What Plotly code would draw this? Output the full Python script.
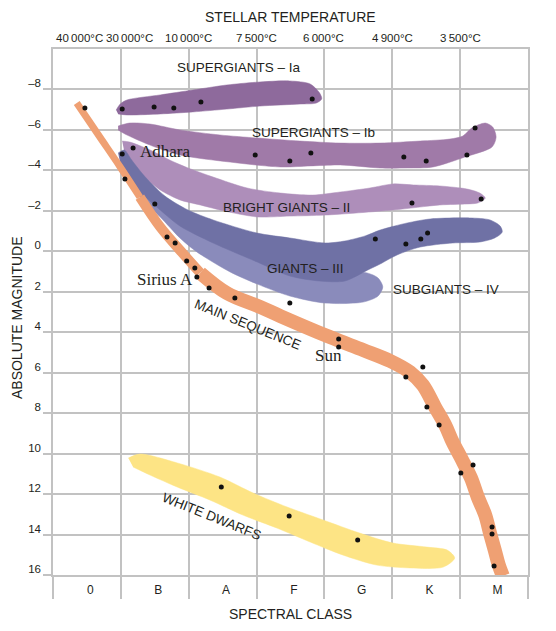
import plotly.graph_objects as go

# ---- axes / labels ----
spectral_classes = ["0", "B", "A", "F", "G", "K", "M"]
spectral_pos = [0.55, 1.55, 2.55, 3.55, 4.55, 5.55, 6.55]
column_edges = [0, 1, 2, 3, 4, 5, 6, 7]

temp_labels = ["40\u2009000°C", "30\u2009000°C", "10\u2009000°C", "7\u2009500°C",
               "6\u2009000°C", "4\u2009900°C", "3\u2009500°C", "3\u2009400°C"]
temp_pos = [0.39, 1.12, 2.0, 3.0, 3.99, 5.0, 6.0, 7.05]

mag_ticks = [-8, -6, -4, -2, 0, 2, 4, 6, 8, 10, 12, 14, 16]
mag_text = ["–8", "–6", "–4", "–2", "0", "2", "4", "6", "8", "10", "12", "14", "16"]

# ---- regions (spectral column, absolute magnitude) ----
ia_x = [0.93, 0.99, 1.09, 1.58, 2.06, 2.56, 3.05, 3.49, 3.79, 3.93, 3.96, 3.88, 3.64, 3.05, 2.56, 2.06, 1.58, 1.09, 0.96]
ia_y = [-6.98, -7.28, -7.48, -7.73, -7.97, -8.22, -8.37, -8.42, -8.27, -7.82, -7.53, -7.33, -7.28, -7.18, -7.03, -6.89, -6.79, -6.74, -6.79]

ib_x = [0.96, 1.13, 1.43, 1.87, 2.46, 3.01, 3.64, 4.23, 4.82, 5.41, 5.85, 6.04, 6.17, 6.37, 6.48, 6.53, 6.47, 6.07, 5.60, 5.22, 4.82, 4.23, 3.79, 3.35, 2.61, 1.87, 1.43, 1.06, 0.96]
ib_y = [-6.19, -6.34, -6.29, -6.00, -5.75, -5.60, -5.45, -5.35, -5.35, -5.45, -5.55, -5.70, -6.09, -6.34, -6.14, -5.65, -5.16, -4.66, -4.17, -4.12, -4.12, -4.27, -4.22, -4.17, -4.41, -4.76, -5.25, -5.80, -6.00]

ii_x = [1.02, 1.13, 1.43, 1.72, 1.99, 2.36, 2.86, 3.35, 3.83, 4.23, 4.67, 5.01, 5.31, 5.70, 6.10, 6.29, 6.37, 6.26, 6.10, 5.70, 5.01, 4.01, 3.49, 3.01, 2.53, 2.17, 1.87, 1.58, 1.36, 1.18, 1.06]
ii_y = [-5.45, -5.40, -5.01, -4.51, -4.12, -3.67, -3.13, -2.88, -2.78, -2.93, -3.13, -3.33, -3.28, -3.23, -3.08, -2.88, -2.63, -2.39, -2.34, -2.29, -2.04, -1.79, -1.74, -1.70, -1.99, -2.29, -2.54, -3.03, -3.62, -4.27, -4.76]

iii_x = [0.96, 1.05, 1.16, 1.36, 1.65, 1.99, 2.36, 3.01, 3.49, 4.01, 4.30, 4.60, 4.82, 5.22, 5.56, 6.14, 6.44, 6.59, 6.62, 6.51, 6.29, 5.89, 5.41, 5.07, 4.82, 4.64, 4.30, 3.93, 3.49, 3.01, 2.36, 1.87, 1.58, 1.36, 1.24, 1.11, 1.00]
iii_y = [-4.86, -5.01, -4.51, -3.67, -2.73, -2.04, -1.55, -0.90, -0.66, -0.41, -0.51, -0.76, -1.05, -1.40, -1.60, -1.65, -1.55, -1.25, -0.95, -0.66, -0.46, -0.41, -0.21, 0.18, 0.63, 0.92, 1.47, 1.47, 1.22, 0.53, -0.41, -1.25, -2.04, -2.68, -3.03, -3.52, -4.22]

iv_x = [1.11, 1.36, 1.72, 2.02, 2.36, 3.01, 3.64, 4.23, 4.63, 4.79, 4.86, 4.79, 4.57, 4.01, 3.49, 3.01, 2.61, 2.12, 1.87, 1.58, 1.33, 1.16]
iv_y = [-3.62, -3.03, -2.19, -1.45, -0.76, 0.13, 0.73, 1.02, 1.07, 1.32, 1.76, 2.21, 2.51, 2.56, 2.21, 1.62, 1.02, 0.03, -0.66, -1.70, -2.49, -3.13]

wd_x = [1.11, 1.28, 1.83, 2.46, 2.95, 3.45, 3.98, 4.52, 5.01, 5.51, 5.81, 5.92, 5.75, 5.26, 4.77, 4.27, 3.79, 3.30, 2.80, 2.31, 1.83, 1.43, 1.18]
wd_y = [10.22, 10.02, 10.46, 11.16, 11.95, 12.64, 13.28, 13.93, 14.42, 14.62, 14.77, 15.16, 15.61, 15.65, 15.51, 15.01, 14.37, 13.68, 13.04, 12.29, 11.65, 11.06, 10.66]

# main sequence centre line
ms_x = [0.35, 0.69, 0.99, 1.28, 1.58, 1.87, 2.17, 2.56, 3.05, 3.35, 4.08, 4.57, 4.97, 5.26, 5.45, 5.63, 5.78, 5.89, 6.03, 6.16, 6.26, 6.37, 6.44, 6.51, 6.57, 6.63]
ms_y = [-7.33, -5.65, -4.17, -2.68, -1.20, -0.06, 1.07, 2.06, 2.75, 3.20, 4.24, 4.88, 5.42, 5.97, 6.61, 7.70, 8.59, 9.43, 10.32, 11.21, 12.15, 13.04, 13.93, 14.77, 15.51, 16.05]

# individual stars
star_x = [0.47, 1.02, 1.49, 1.78, 2.18, 3.82,
          2.98, 3.49, 3.80, 5.17, 5.50, 6.10, 6.22,
          1.18, 5.29, 6.31,
          4.75, 5.20, 5.42, 5.52,
          1.02, 1.06, 1.50, 1.68, 1.80, 1.97, 2.09, 2.12, 2.30, 2.68, 3.49,
          4.21, 4.21, 5.45, 5.20, 5.51, 5.69, 6.19, 6.01, 6.47, 6.47, 6.50,
          2.48, 3.48, 4.49]
star_y = [-7.08, -7.03, -7.13, -7.08, -7.38, -7.53,
          -4.76, -4.46, -4.86, -4.66, -4.46, -4.76, -6.09,
          -5.11, -2.39, -2.59,
          -0.61, -0.36, -0.61, -0.90,
          -4.81, -3.57, -2.34, -0.71, -0.41, 0.48, 0.83, 1.27, 1.81, 2.31, 2.56,
          4.34, 4.73, 5.72, 6.21, 7.70, 8.59, 10.56, 10.96, 13.63, 13.97, 15.56,
          11.65, 13.08, 14.27]

SANS = "Liberation Sans, Arial, sans-serif"
SERIF = "Liberation Serif, Times New Roman, serif"
INK = "#231f20"
GRID = "#c2c2c2"

fig = go.Figure()


def band(x, y, color):
    fig.add_trace(go.Scatter(
        x=x, y=y, fill="toself", fillcolor=color, mode="lines",
        line=dict(color=color, width=0.5, shape="spline", smoothing=0.8),
        hoverinfo="skip", showlegend=False))


band(wd_x, wd_y, "#fde485")
band(ia_x, ia_y, "#8e6a9c")
band(ib_x, ib_y, "#a07aa8")
band(ii_x, ii_y, "#ae8eba")
band(iv_x, iv_y, "#8a8bbb")
band(iii_x, iii_y, "#6f71a5")

# main sequence, widening downwards
for a, b, w in [(0, 4, 7), (3, 7, 10), (6, len(ms_x), 14)]:
    fig.add_trace(go.Scatter(
        x=ms_x[a:b], y=ms_y[a:b], mode="lines",
        line=dict(color="#efa073", width=w, shape="spline"),
        hoverinfo="skip", showlegend=False))

fig.add_trace(go.Scatter(
    x=star_x, y=star_y, mode="markers",
    marker=dict(color="#111111", size=5),
    hoverinfo="skip", showlegend=False))

labels = [
    ("SUPERGIANTS – Ia", 2.74, -9.09, 0),
    ("SUPERGIANTS – Ib", 3.84, -5.89, 0),
    ("BRIGHT GIANTS – II", 3.44, -2.17, 0),
    ("GIANTS – III", 3.72, 0.87, 0),
    ("SUBGIANTS – IV", 5.79, 1.88, 0),
    ("MAIN SEQUENCE", 2.87, 3.64, 22),
    ("WHITE DWARFS", 2.34, 13.12, 22),
]
for txt, x, y, ang in labels:
    fig.add_annotation(x=x, y=y, text=txt, showarrow=False, textangle=ang,
                       xanchor="center", yanchor="middle",
                       font=dict(family=SANS, size=13.5, color=INK))

for txt, x, y in [("Adhara", 1.65, -4.91), ("Sirius A", 1.65, 1.38), ("Sun", 4.06, 5.13)]:
    fig.add_annotation(x=x, y=y, text=txt, showarrow=False,
                       xanchor="center", yanchor="middle",
                       font=dict(family=SERIF, size=17, color=INK))

for txt, x in zip(temp_labels, temp_pos):
    fig.add_annotation(x=x, y=1.0209, xref="x", yref="paper", text=txt,
                       showarrow=False, xanchor="center", yanchor="middle",
                       font=dict(family=SANS, size=11.5, color=INK))

titles = [
    ("STELLAR TEMPERATURE", 0.5, 1.0608, 0),
    ("SPECTRAL CLASS", 0.5, -0.0741, 0),
    ("ABSOLUTE MAGNITUDE", -0.0757, 0.4886, -90),
]
for txt, x, y, ang in titles:
    fig.add_annotation(x=x, y=y, xref="paper", yref="paper", text=txt,
                       showarrow=False, textangle=ang, xanchor="center", yanchor="middle",
                       font=dict(family=SANS, size=14, color=INK))

fig.update_xaxes(
    range=[0, 7], tickvals=spectral_pos, ticktext=spectral_classes, ticks="",
    showgrid=False, zeroline=False, ticklabelstandoff=3, automargin=False,
    tickfont=dict(family=SANS, size=12, color=INK),
    minor=dict(tickvals=column_edges, ticks="outside", ticklen=22, tickcolor=GRID,
               tickwidth=1.5, showgrid=True, gridcolor=GRID, gridwidth=1.5),
    showline=True, linecolor=GRID, linewidth=1.5, mirror=True, layer="below traces")

fig.update_yaxes(
    range=[16, -10], tickvals=mag_ticks, ticktext=mag_text, ticks="outside",
    ticklen=8, tickcolor=GRID, tickwidth=1.5, ticklabelshift=6, automargin=False,
    showgrid=True, gridcolor=GRID, gridwidth=1.5, zeroline=False,
    tickfont=dict(family=SANS, size=11.5, color=INK),
    showline=True, linecolor=GRID, linewidth=1.5, mirror=True, layer="below traces")

# the page body adds 8px around the figure, so the figure is 8px smaller
fig.update_layout(
    width=548, height=623,
    margin=dict(l=45, r=28, t=41, b=56),
    paper_bgcolor="white", plot_bgcolor="white",
    showlegend=False)

fig.write_html("out.html")
